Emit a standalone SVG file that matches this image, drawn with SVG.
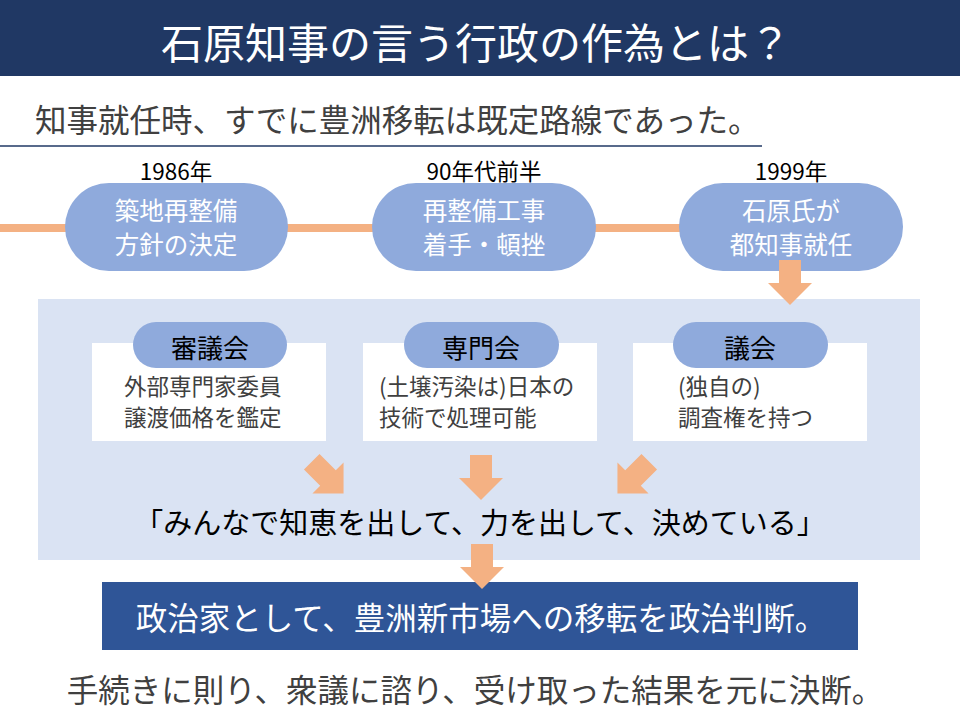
<svg xmlns="http://www.w3.org/2000/svg" width="960" height="720" viewBox="0 0 960 720">
<defs>
<style>
text{font-family:"Noto Sans CJK JP","Noto Sans",sans-serif;dominant-baseline:central}
.pill{fill:#8FAADC}
.arr{fill:#F4B183}
.w{fill:#FFFFFF}
.g{fill:#404040}
.k{fill:#000000}
.c{text-anchor:middle}
.pt{font-size:24.5px}
</style>
<path id="darr" d="M-11,-23 L11,-23 L11,0 L22,0 L0,22 L-22,0 L-11,0 Z"/>
</defs>
<rect x="0" y="0" width="960" height="76" fill="#203864"/>
<text class="w c" x="476" y="40" font-size="42">石原知事の言う行政の作為とは？</text>
<text class="g" x="35" y="118" font-size="31.5">知事就任時、すでに豊洲移転は既定路線であった。</text>
<line x1="0" y1="146" x2="762" y2="146" stroke="#203864" stroke-width="1.5"/>
<rect x="0" y="224" width="700" height="8" class="arr"/>
<g id="node-1986">
<rect class="pill" x="65" y="183" width="223" height="88" rx="44"/>
<text class="k c" x="176" y="170" font-size="22.5">1986年</text>
<text class="w c pt" x="176" y="209">築地再整備</text>
<text class="w c pt" x="176" y="243">方針の決定</text>
</g>
<g id="node-90s">
<rect class="pill" x="372" y="183" width="224" height="88" rx="44"/>
<text class="k c" x="484" y="170" font-size="22.5">90年代前半</text>
<text class="w c pt" x="484" y="209">再整備工事</text>
<text class="w c pt" x="484" y="243">着手・頓挫</text>
</g>
<g id="node-1999">
<rect class="pill" x="679" y="183" width="224" height="88" rx="44"/>
<text class="k c" x="791" y="170" font-size="22.5">1999年</text>
<text class="w c pt" x="791" y="209">石原氏が</text>
<text class="w c pt" x="791" y="243">都知事就任</text>
</g>
<g id="panel">
<rect x="38" y="299" width="882" height="261" fill="#DAE3F3"/>
</g>
<g id="node-shingikai">
<rect class="w" x="92" y="343" width="234" height="98"/>
<rect class="pill" x="133" y="322" width="154" height="46" rx="23"/>
<text class="k c" x="210" y="346" font-size="26">審議会</text>
<text class="g" x="124" y="385" font-size="22.5">外部専門家委員</text>
<text class="g" x="124" y="416" font-size="22.5">譲渡価格を鑑定</text>
</g>
<g id="node-senmonkai">
<rect class="w" x="363" y="343" width="234" height="98"/>
<rect class="pill" x="404" y="322" width="155" height="46" rx="23"/>
<text class="k c" x="481" y="346" font-size="26">専門会</text>
<text class="g" x="379" y="385" font-size="22.5">(土壌汚染は)日本の</text>
<text class="g" x="379" y="416" font-size="22.5">技術で処理可能</text>
</g>
<g id="node-gikai">
<rect class="w" x="633" y="343" width="234" height="98"/>
<rect class="pill" x="673" y="322" width="155" height="46" rx="23"/>
<text class="k c" x="750" y="346" font-size="26">議会</text>
<text class="g" x="678" y="385" font-size="22.5">(独自の)</text>
<text class="g" x="678" y="416" font-size="22.5">調査権を持つ</text>
</g>
<g id="node-quote">
<text class="k c" x="480" y="521" font-size="29">「みんなで知恵を出して、力を出して、決めている」</text>
</g>
<g id="node-decision">
<rect x="102" y="582" width="756" height="68" fill="#2F5597"/>
<text class="w c" x="481" y="616" font-size="31.5">政治家として、豊洲新市場への移転を政治判断。</text>
</g>
<g id="connectors">
<use href="#darr" class="arr" transform="translate(790,283)"/>
<use href="#darr" class="arr" transform="translate(328,478) rotate(-45)"/>
<use href="#darr" class="arr" transform="translate(481,478)"/>
<use href="#darr" class="arr" transform="translate(633,478) rotate(45)"/>
<use href="#darr" class="arr" transform="translate(482,567)"/>
</g>
<text class="g c" x="475" y="688" font-size="31.5">手続きに則り、衆議に諮り、受け取った結果を元に決断。</text>
</svg>
